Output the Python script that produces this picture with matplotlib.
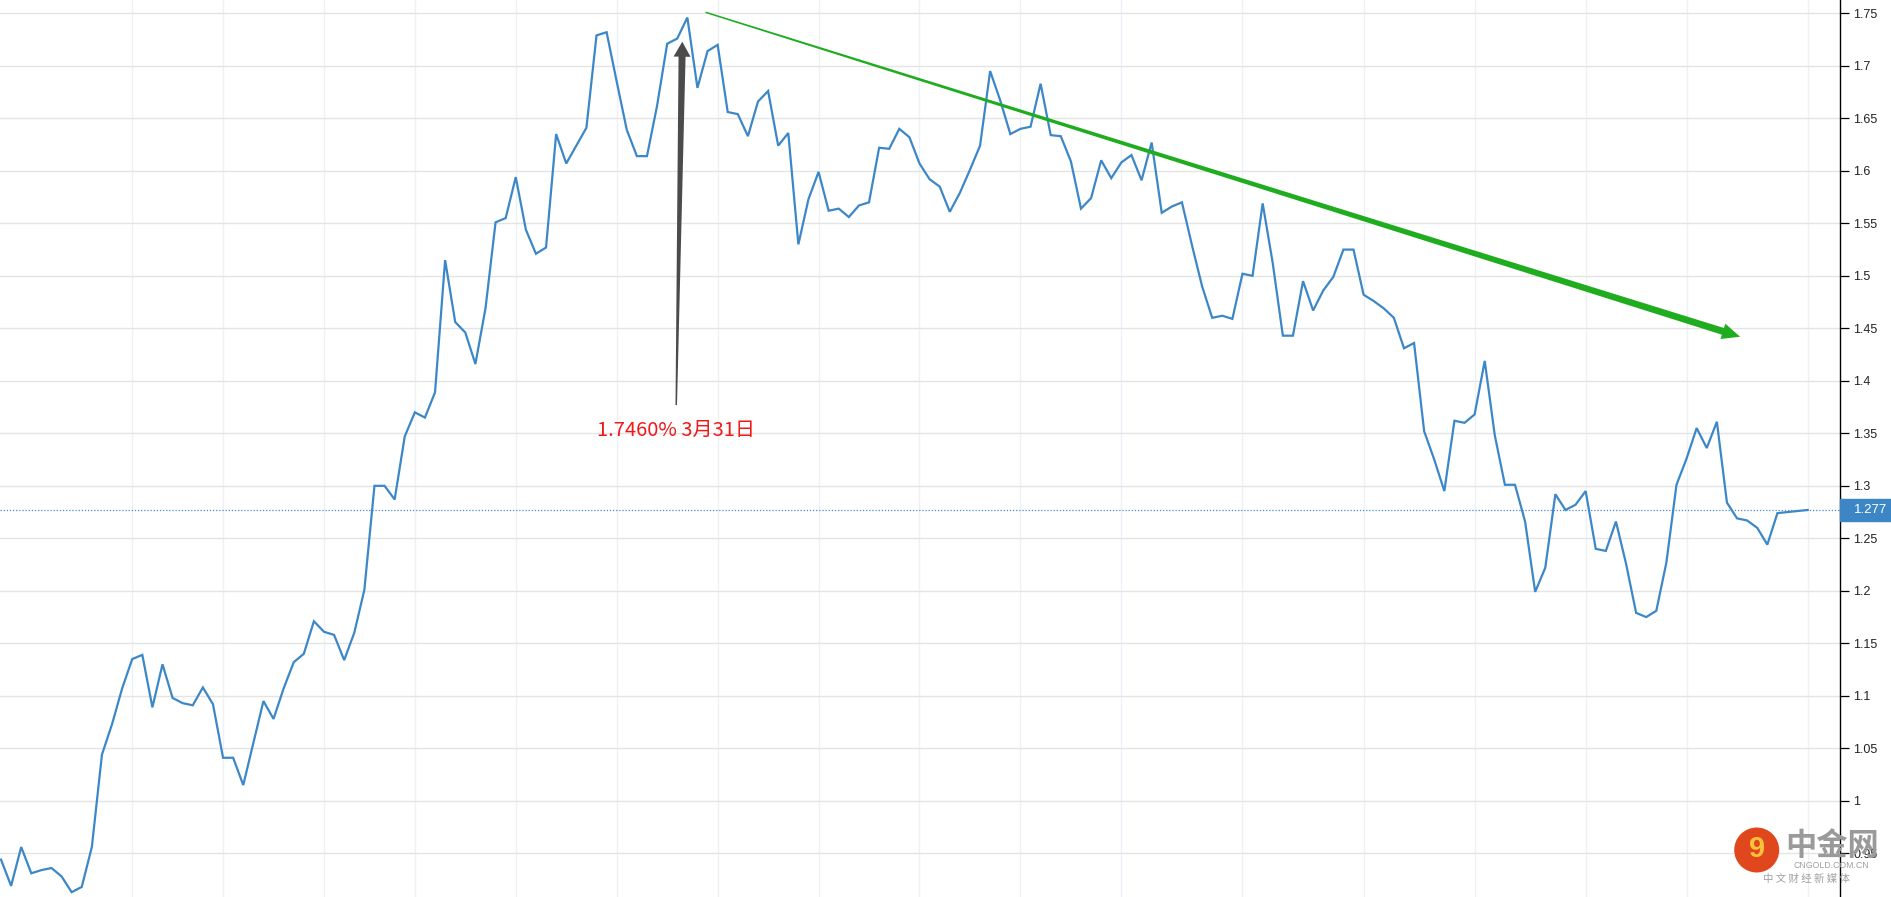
import numpy as np
import matplotlib
matplotlib.use("Agg")
import matplotlib.pyplot as plt
from matplotlib.patches import Polygon, Rectangle, Circle
from matplotlib.transforms import IdentityTransform, blended_transform_factory

plt.rcParams['font.family'] = ['Liberation Sans', 'Noto Sans CJK SC', 'DejaVu Sans']

# yield series (one point per trading day)
yields = [0.944, 0.919, 0.956, 0.931, 0.934, 0.936, 0.928, 0.913, 0.918, 0.956,
          1.044, 1.073, 1.107, 1.135, 1.139, 1.089, 1.130, 1.098, 1.093, 1.091,
          1.108, 1.092, 1.041, 1.041, 1.015, 1.055, 1.095, 1.078, 1.107, 1.132,
          1.140, 1.171, 1.161, 1.158, 1.134, 1.160, 1.201, 1.300, 1.300, 1.287,
          1.347, 1.370, 1.365, 1.389, 1.515, 1.456, 1.446, 1.416, 1.469, 1.551,
          1.555, 1.594, 1.544, 1.521, 1.527, 1.635, 1.607, 1.624, 1.641, 1.729,
          1.732, 1.685, 1.639, 1.614, 1.614, 1.662, 1.721, 1.726, 1.746, 1.679,
          1.714, 1.720, 1.656, 1.654, 1.633, 1.666, 1.676, 1.624, 1.636, 1.530,
          1.573, 1.599, 1.562, 1.564, 1.556, 1.567, 1.570, 1.622, 1.621, 1.640,
          1.632, 1.607, 1.592, 1.585, 1.561, 1.579, 1.601, 1.624, 1.695, 1.667,
          1.635, 1.640, 1.642, 1.683, 1.634, 1.633, 1.609, 1.564, 1.574, 1.610,
          1.593, 1.608, 1.615, 1.591, 1.627, 1.560, 1.566, 1.570, 1.529, 1.490,
          1.460, 1.462, 1.459, 1.502, 1.500, 1.569, 1.512, 1.443, 1.443, 1.495,
          1.467, 1.486, 1.499, 1.525, 1.525, 1.482, 1.476, 1.469, 1.460, 1.431,
          1.436, 1.352, 1.325, 1.295, 1.362, 1.360, 1.368, 1.419, 1.348, 1.301,
          1.301, 1.266, 1.199, 1.222, 1.292, 1.277, 1.282, 1.295, 1.240, 1.238,
          1.266, 1.226, 1.179, 1.175, 1.181, 1.227, 1.301, 1.326, 1.355, 1.336,
          1.361, 1.284, 1.269, 1.267, 1.260, 1.244, 1.274, 1.275, 1.276, 1.277]
days = np.arange(len(yields))

# vertical grid (period starts, as day index)
grid_days = [13, 22, 32, 41, 51, 61, 71, 81, 91, 101, 111, 123, 135, 146, 157, 167, 179]
ytick_vals = [round(0.95 + 0.05 * k, 2) for k in range(17)]

# annotations
peak_day, peak_val = 68, 1.746
peak_label = "1.7460% 3月31日"
last_val = yields[-1]
trend_start = (69.8, 1.751)
trend_end = (172.3, 1.442)

fig = plt.figure(figsize=(18.91, 8.97), dpi=100)
ax = fig.add_axes([0, 0, 1840 / 1891, 1])
ax.set_xlim(-0.1, 182.2)
ax.set_ylim(0.9084, 1.7627)

ax.plot(days, yields, color='#3c87c8', lw=1.6, zorder=3, solid_joinstyle='miter')
ax.axhline(last_val, color='#4a86c8', lw=0.9, ls=(0, (1, 1.5)), zorder=2)

ax.set_xticks(grid_days)
ax.set_xticklabels([])
ax.set_yticks(ytick_vals)
ax.set_yticklabels([f"{v:g}" for v in ytick_vals])
ax.yaxis.tick_right()
ax.tick_params(axis='x', length=0)
ax.tick_params(axis='y', length=6.5, width=0.9, color='black', pad=3,
               labelsize=9, labelcolor='#222222')
ax.grid(axis='y', color='#e4e4e4', lw=1.0)
ax.grid(axis='x', color='#edf1f6', lw=1.0)
for s in ['left', 'top', 'bottom']:
    ax.spines[s].set_visible(False)
ax.spines['right'].set_color('black')
ax.spines['right'].set_linewidth(1.0)

# current value box on the axis
bt = blended_transform_factory(ax.transAxes, ax.transData)
ax.add_patch(Rectangle((1.0, last_val - 0.0102), 51 / 1840, 0.0204, transform=bt,
                       color='#3d86c6', clip_on=False, zorder=5))
ax.text(1.0167, last_val, f"{last_val:.3f}", transform=bt, color='white',
        fontsize=9.5, ha='center', va='center', clip_on=False, zorder=6)


def taper_arrow(p_start, p_end, w0, w1, hw, hl, color):
    p0 = ax.transData.transform(p_start)
    p1 = ax.transData.transform(p_end)
    d = p1 - p0
    u = d / np.hypot(*d)
    n = np.array([-u[1], u[0]])
    b = p1 - u * hl
    pts = [p0 + n * w0 / 2, b + n * w1 / 2, b + n * hw / 2, p1,
           b - n * hw / 2, b - n * w1 / 2, p0 - n * w0 / 2]
    ax.add_patch(Polygon(pts, closed=True, transform=IdentityTransform(),
                         facecolor=color, edgecolor='none', zorder=4))


# gray arrow pointing at the peak
taper_arrow((66.9, 1.377), (67.5, 1.723), 1.5, 7, 17, 15, '#4b4b4b')
ax.text(66.9, 1.353, peak_label, color='#f01818', fontsize=14.5,
        family=['Noto Sans CJK SC', 'DejaVu Sans'], ha='center', va='center', zorder=5)

# green down trend
taper_arrow(trend_start, trend_end, 1.5, 7, 16, 18, '#1fac1f')

# watermark logo (pixel coordinates, origin bottom-left)
fig.patches.append(Circle((1756.7, 897 - 850), 22.5, transform=IdentityTransform(),
                          facecolor='#e0471c', edgecolor='none', zorder=10))
fig.text(1757 / 1891, 1 - 849 / 897, "9", color='#f8c23a', fontsize=21,
         fontweight='bold', ha='center', va='center', zorder=11)
fig.text(1785 / 1891, 1 - 846 / 897, "中金网", color='#9a9a9a', fontsize=22.5,
         fontweight='bold', family=['Noto Sans CJK SC'], ha='left', va='center',
         zorder=11)
fig.text(1831 / 1891, 1 - 865 / 897, "CNGOLD.COM.CN", color='#a0a0a0', fontsize=6.3,
         ha='center', va='center', zorder=11)
fig.text(1806 / 1891, 1 - 879 / 897, "中 文 财 经 新 媒 体", color='#a0a0a0',
         fontsize=7.5, family=['Noto Sans CJK SC'], ha='center', va='center', zorder=11)

fig.savefig('out.png', dpi=100)
